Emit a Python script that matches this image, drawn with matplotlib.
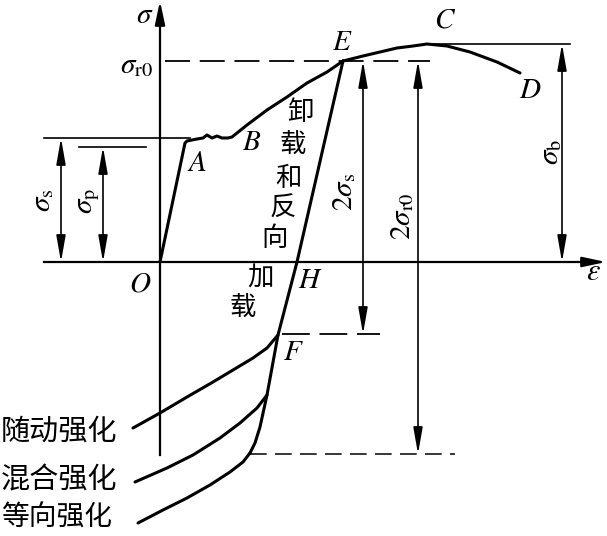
import numpy as np
import matplotlib
matplotlib.use("Agg")
import matplotlib.pyplot as plt
from matplotlib.patches import ArrowStyle

plt.rcParams["mathtext.fontset"] = "stix"
plt.rcParams["lines.scale_dashes"] = False
CJK = ["Noto Sans CJK SC", "DejaVu Sans"]

# ---------------- schematic values (strain, stress in drawing units) ----------------
sig_p = 115
sig_s = 124
sig_r0 = 201
sig_b = 218
sig_F = -72
sig_iso = -192

# O -> A -> yield plateau -> B -> E
load_eps = [0, 25, 27, 37, 43, 47, 52, 57, 62, 68, 72, 87, 107, 127, 147, 167, 183]
load_sig = [0, 119, 121, 123, 124, 127, 124, 126, 124, 124, 125, 137, 152, 165, 179, 190, 201]
# E -> C -> D
hard_eps = [183, 203, 237, 253, 267, 287, 310, 337, 360]
hard_sig = [201, 206, 214, 216, 218, 216, 210, 200, 189]
# unloading and reverse loading E -> H -> F -> ... -> iso point
unload_eps = [183, 137, 118, 107, 100, 95, 90]
unload_sig = [201, 0, -73, -133, -165, -181, -191]
# reverse hardening branches
kin_eps = [118, 107, 93, 73, 53, 27, 0, -27]
kin_sig = [-73, -86, -96, -108, -120, -135, -151, -166]
mix_eps = [107, 97, 80, 60, 33, 7, -25]
mix_sig = [-133, -146, -161, -176, -193, -206, -220]
iso_eps = [90, 83, 70, 50, 27, 3, -22]
iso_sig = [-191, -200, -210, -223, -236, -248, -261]

fig = plt.figure(figsize=(6.07, 5.36), dpi=100)
ax = fig.add_axes([0, 0, 1, 1])
ax.set_xlim(-160, 447)
ax.set_ylim(-274, 262)
ax.axis("off")

thick = dict(color="k", lw=2.2, solid_joinstyle="round", solid_capstyle="round")
thin = dict(color="k", lw=1.2)

# axes with arrows
ax.plot([-116, 436], [0, 0], color="k", lw=1.6)
ax.plot([0, 0], [-193, 250], color="k", lw=1.6)
axis_head = ArrowStyle("-|>", head_length=1.4, head_width=0.3)
ax.annotate("", xy=(446, 0), xytext=(420, 0),
            arrowprops=dict(arrowstyle=axis_head, mutation_scale=10, color="k", lw=1.6,
                            shrinkA=0, shrinkB=0))
ax.annotate("", xy=(0, 261), xytext=(0, 235),
            arrowprops=dict(arrowstyle=axis_head, mutation_scale=10, color="k", lw=1.6,
                            shrinkA=0, shrinkB=0))

# curves
ax.plot(load_eps, load_sig, **thick)
ax.plot(hard_eps, hard_sig, **thick)
ax.plot(unload_eps, unload_sig, **thick)
ax.plot(kin_eps, kin_sig, **thick)
ax.plot(mix_eps, mix_sig, **thick)
ax.plot(iso_eps, iso_sig, **thick)

# reference lines
ax.plot([-116, 30], [sig_s, sig_s], **thin)
ax.plot([-81, -14], [sig_p, sig_p], **thin)
ax.plot([267, 410], [sig_b, sig_b], **thin)
ax.plot([5, 270], [sig_r0, sig_r0], color="k", lw=1.3, dashes=(18, 7))
ax.plot([122, 220], [sig_F, sig_F], color="k", lw=1.3, dashes=(20, 7))
ax.plot([90, 295], [sig_iso, sig_iso], color="k", lw=1.1, dashes=(12, 6))

# dimension arrows
dim_head = ArrowStyle("<|-|>", head_length=1.6, head_width=0.28)
def dim(x, y0, y1):
    ax.annotate("", xy=(x, y1), xytext=(x, y0),
                arrowprops=dict(arrowstyle=dim_head, mutation_scale=10, color="k", lw=1.2,
                                shrinkA=0, shrinkB=0))

dim(-99, 0, sig_s)
dim(-57, 0, sig_p)
dim(203, sig_F, sig_r0)
dim(258, sig_iso, sig_r0)
dim(402, 0, sig_b)

# symbol labels
ax.text(-15, 247, r"$\sigma$", fontsize=21, ha="center", va="center")
ax.text(-7, 197, r"$\sigma_{\mathrm{r0}}$", fontsize=21, ha="right", va="center")
ax.text(-20, -21, r"$O$", fontsize=21, ha="center", va="center")
ax.text(433, -10, r"$\varepsilon$", fontsize=22, ha="center", va="center")
ax.text(-118, 62, r"$\sigma_{\mathrm{s}}$", fontsize=21, ha="center", va="center", rotation=90)
ax.text(-72, 61, r"$\sigma_{\mathrm{p}}$", fontsize=21, ha="center", va="center", rotation=90)
ax.text(184, 70, r"$2\sigma_{\mathrm{s}}$", fontsize=21, ha="center", va="center", rotation=90)
ax.text(242, 46, r"$2\sigma_{\mathrm{r0}}$", fontsize=21, ha="center", va="center", rotation=90)
ax.text(390, 110, r"$\sigma_{\mathrm{b}}$", fontsize=21, ha="center", va="center", rotation=90)

for s, x, y in [("A", 37, 99), ("B", 92, 120), ("C", 285, 242), ("D", 370, 172),
                ("E", 182, 220), ("F", 133, -90), ("H", 150, -18)]:
    ax.text(x, y, "$%s$" % s, fontsize=21, ha="center", va="center")

# Chinese annotations
for s, x, y in [("卸", 140, 149), ("载", 133, 117), ("和", 128, 84), ("反", 123, 54),
                ("向", 115, 24), ("加", 100, -16), ("载", 83, -46)]:
    ax.text(x, y, s, fontsize=19, ha="center", va="center", family=CJK)

ax.text(-159, -170, "随动强化", fontsize=21, ha="left", va="center", family=CJK)
ax.text(-159, -218, "混合强化", fontsize=21, ha="left", va="center", family=CJK)
ax.text(-159, -256, "等向强化", fontsize=20, ha="left", va="center", family=CJK)

fig.savefig("out.png", dpi=100)
